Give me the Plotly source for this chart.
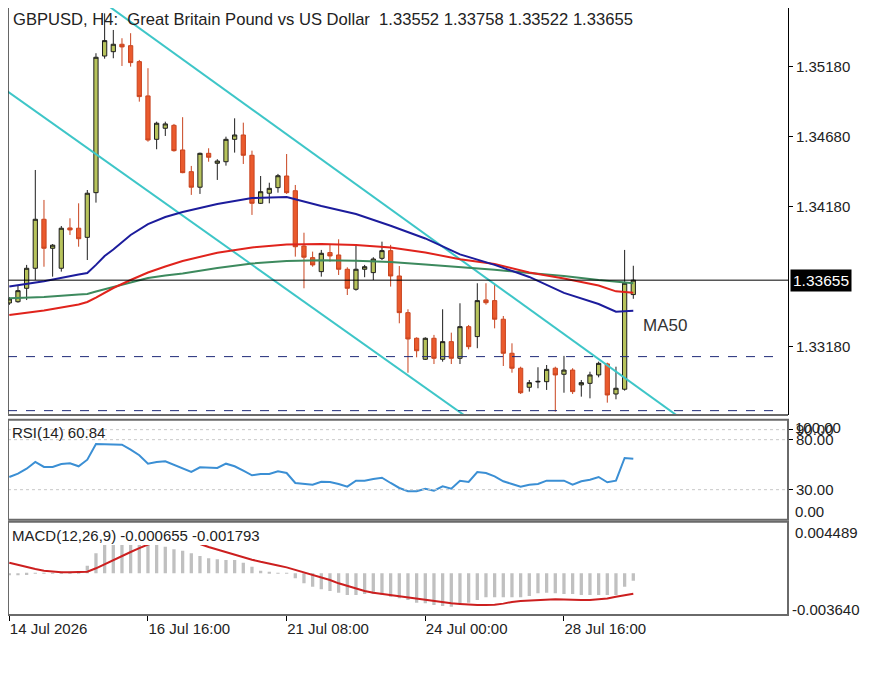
import plotly.graph_objects as go
from plotly.subplots import make_subplots

# GBPUSD H4 candles, bar 0 = 14 Jul 2026 00:00
opens = [1.33492, 1.33501, 1.33597, 1.33740, 1.34090, 1.33883, 1.33740, 1.34028, 1.34026, 1.33961,
         1.34280, 1.35256, 1.35287, 1.35340, 1.35330, 1.35216, 1.34971, 1.34661, 1.34740, 1.34761,
         1.34585, 1.34430, 1.34319, 1.34561, 1.34490, 1.34501, 1.34661, 1.34692, 1.34547, 1.34204,
         1.34276, 1.34316, 1.34399, 1.34294, 1.33899, 1.33816, 1.33716, 1.33852, 1.33835, 1.33733,
         1.33590, 1.33733, 1.33709, 1.33811, 1.33866, 1.33685, 1.33423, 1.33240, 1.33090, 1.33240,
         1.33090, 1.33216, 1.33097, 1.33323, 1.33252, 1.33514, 1.33509, 1.33376, 1.33133, 1.33026,
         1.32890, 1.32928, 1.32930, 1.33026, 1.32983, 1.33013, 1.32907, 1.32918, 1.32978, 1.33057,
         1.32842, 1.32876, 1.33552]
highs = [1.33535, 1.33621, 1.33764, 1.34442, 1.34228, 1.33913, 1.34042, 1.34097, 1.34204, 1.34299,
         1.35276, 1.35561, 1.35442, 1.35383, 1.35419, 1.35228, 1.35169, 1.34787, 1.34787, 1.34771,
         1.34819, 1.34471, 1.34566, 1.34597, 1.34519, 1.34680, 1.34811, 1.34780, 1.34580, 1.34399,
         1.34351, 1.34414, 1.34556, 1.34335, 1.33994, 1.33859, 1.33871, 1.33907, 1.33947, 1.33747,
         1.33899, 1.33764, 1.33819, 1.33930, 1.33907, 1.33756, 1.33447, 1.33247, 1.33247, 1.33264,
         1.33447, 1.33280, 1.33490, 1.33335, 1.33633, 1.33633, 1.33621, 1.33399, 1.33204, 1.33037,
         1.32942, 1.33033, 1.33049, 1.33037, 1.33114, 1.33026, 1.32942, 1.33001, 1.33073, 1.33066,
         1.33037, 1.33871, 1.33758]
lows = [1.33478, 1.33494, 1.33513, 1.33656, 1.33751, 1.33680, 1.33716, 1.33978, 1.33894, 1.33799,
        1.34209, 1.35237, 1.35240, 1.35185, 1.35180, 1.34930, 1.34644, 1.34590, 1.34685, 1.34573,
        1.34419, 1.34264, 1.34271, 1.34501, 1.34371, 1.34473, 1.34566, 1.34485, 1.34121, 1.34199,
        1.34204, 1.34280, 1.34271, 1.33823, 1.33597, 1.33751, 1.33680, 1.33787, 1.33692, 1.33549,
        1.33580, 1.33676, 1.33656, 1.33799, 1.33609, 1.33347, 1.32994, 1.33104, 1.33085, 1.33056,
        1.33073, 1.33056, 1.33056, 1.33161, 1.33169, 1.33480, 1.33311, 1.33042, 1.32994, 1.32842,
        1.32859, 1.32883, 1.32871, 1.32716, 1.32851, 1.32842, 1.32823, 1.32811, 1.32961, 1.32780,
        1.32804, 1.32866, 1.33522]
closes = [1.33521, 1.33580, 1.33740, 1.34090, 1.33883, 1.33905, 1.34026, 1.34014, 1.33951, 1.34276,
          1.35247, 1.35366, 1.35340, 1.35321, 1.35209, 1.34966, 1.34656, 1.34776, 1.34771, 1.34580,
          1.34423, 1.34319, 1.34561, 1.34533, 1.34506, 1.34661, 1.34692, 1.34547, 1.34204, 1.34287,
          1.34311, 1.34401, 1.34280, 1.33894, 1.33819, 1.33764, 1.33847, 1.33828, 1.33733, 1.33597,
          1.33733, 1.33751, 1.33806, 1.33866, 1.33685, 1.33423, 1.33235, 1.33151, 1.33240, 1.33097,
          1.33216, 1.33097, 1.33323, 1.33180, 1.33509, 1.33494, 1.33376, 1.33133, 1.33026, 1.32851,
          1.32923, 1.32932, 1.33018, 1.32978, 1.33013, 1.32859, 1.32923, 1.32978, 1.33061, 1.32835,
          1.32883, 1.33633, 1.33655]
bars = list(range(len(opens)))

# moving averages at these bars
ma_bars = [0, 4, 8, 9, 10, 11, 12, 14, 16, 18, 20, 24, 28, 32, 36, 40, 44, 48, 52, 56, 60, 64, 68, 70, 72]
ma_blue = [1.33609, 1.33647, 1.33696, 1.33706, 1.33764, 1.33828, 1.33874, 1.33978, 1.34056, 1.34106,
           1.34142, 1.34199, 1.34242, 1.34249, 1.34185, 1.34128, 1.34044, 1.33953, 1.33839, 1.33764,
           1.33678, 1.33564, 1.33485, 1.33430, 1.33437]
ma_red = [1.33406, 1.33439, 1.33481, 1.33499, 1.33531, 1.33564, 1.33599, 1.33656, 1.33710, 1.33753,
          1.33792, 1.33851, 1.33889, 1.33909, 1.33914, 1.33906, 1.33889, 1.33853, 1.33804, 1.33771,
          1.33710, 1.33667, 1.33617, 1.33575, 1.33566]
ma_green = [1.33526, 1.33535, 1.33553, 1.33556, 1.33574, 1.33592, 1.33606, 1.33639, 1.33671, 1.33689,
            1.33703, 1.33742, 1.33774, 1.33792, 1.33797, 1.33794, 1.33785, 1.33767, 1.33749, 1.33730,
            1.33706, 1.33685, 1.33656, 1.33642, 1.33633]

# channel and levels
upper_channel_bars = [10, 80]
upper_channel = [1.35678, 1.32556]
lower_channel_bars = [-1, 55]
lower_channel = [1.35038, 1.32580]
dashed_levels = [1.33109, 1.32723]
last_price = 1.33655
price_ticks = [1.33180, 1.34180, 1.34680, 1.35180]

rsi = [42.7, 46.0, 51.0, 57.7, 52.7, 52.7, 55.7, 56.4, 53.4, 60.0,
       75.7, 75.7, 75.7, 75.0, 70.0, 64.4, 56.0, 57.7, 58.4, 55.0,
       51.0, 47.7, 52.4, 52.4, 51.7, 56.0, 53.4, 49.0, 44.4, 45.7,
       45.7, 48.4, 46.7, 36.7, 35.7, 35.0, 38.0, 37.7, 35.7, 33.0,
       39.0, 39.0, 40.7, 42.0, 36.7, 31.7, 28.4, 28.4, 31.0, 29.0,
       33.4, 31.0, 39.0, 37.7, 47.7, 46.7, 43.4, 38.4, 35.7, 33.0,
       35.0, 35.7, 39.0, 39.0, 39.0, 35.0, 38.4, 40.0, 42.7, 37.4,
       39.0, 61.7, 60.84]
rsi_levels = [90, 80, 30]

macd_hist = [-0.00018, -0.00018, -0.00015, 0.00002, 0.00003, 0.00004, 0.00006, 0.00008, 0.00012, 0.00064,
             0.00173, 0.00270, 0.00320, 0.00340, 0.00335, 0.00315, 0.00290, 0.00262, 0.00231, 0.00208,
             0.00196, 0.00173, 0.00150, 0.00130, 0.00121, 0.00115, 0.00115, 0.00091, 0.00057, 0.00022,
             0.00013, 0.00004, 0.00002, -0.00044, -0.00088, -0.00117, -0.00140, -0.00155, -0.00170, -0.00190,
             -0.00190, -0.00180, -0.00180, -0.00190, -0.00205, -0.00219, -0.00233, -0.00257, -0.00262, -0.00277,
             -0.00286, -0.00292, -0.00262, -0.00257, -0.00233, -0.00210, -0.00210, -0.00210, -0.00210, -0.00210,
             -0.00199, -0.00175, -0.00170, -0.00175, -0.00180, -0.00180, -0.00190, -0.00190, -0.00190, -0.00190,
             -0.00190, -0.00117, -0.000655]
macd_signal = [0.00092, 0.00072, 0.00051, 0.00036, 0.00022, 0.00012, 0.00008, 0.00008, 0.00008, 0.00013,
               0.00043, 0.00080, 0.00115, 0.00150, 0.00185, 0.00218, 0.00250, 0.00272, 0.00285, 0.00290,
               0.00285, 0.00272, 0.00255, 0.00228, 0.00205, 0.00185, 0.00163, 0.00140, 0.00118, 0.00100,
               0.00086, 0.00068, 0.00051, 0.00030, 0.00010, -0.00015, -0.00036, -0.00059, -0.00088, -0.00112,
               -0.00135, -0.00155, -0.00170, -0.00180, -0.00195, -0.00205, -0.00215, -0.00225, -0.00235, -0.00245,
               -0.00255, -0.00262, -0.00268, -0.00275, -0.00277, -0.00277, -0.00275, -0.00265, -0.00250, -0.00242,
               -0.00237, -0.00232, -0.00228, -0.00226, -0.00228, -0.00233, -0.00233, -0.00233, -0.00228, -0.00220,
               -0.00205, -0.00192, -0.001793]
macd_top = 0.004489
macd_bottom = -0.003640
macd_visible_top = 0.00246

tick_bars = [0, 16, 32, 48, 64]
tick_labels = ["14 Jul 2026", "16 Jul 16:00", "21 Jul 08:00", "24 Jul 00:00", "28 Jul 16:00"]

FONT = "Liberation Sans, Arial, sans-serif"

fig = make_subplots(rows=3, cols=1, shared_xaxes=True)

fig.add_trace(go.Candlestick(
    x=bars, open=opens, high=highs, low=lows, close=closes,
    increasing=dict(fillcolor="#b7c35c", line=dict(color="#1e1e1e", width=1)),
    decreasing=dict(fillcolor="#ea5a2d", line=dict(color="#c9441f", width=1)),
    whiskerwidth=0, hoverinfo="skip", showlegend=False), row=1, col=1)

fig.add_trace(go.Scatter(x=upper_channel_bars, y=upper_channel, mode="lines",
                         line=dict(color="#3ec6c8", width=2), showlegend=False), row=1, col=1)
fig.add_trace(go.Scatter(x=lower_channel_bars, y=lower_channel, mode="lines",
                         line=dict(color="#3ec6c8", width=2), showlegend=False), row=1, col=1)
fig.add_trace(go.Scatter(x=ma_bars, y=ma_green, mode="lines",
                         line=dict(color="#3d8a5e", width=2), showlegend=False), row=1, col=1)
fig.add_trace(go.Scatter(x=ma_bars, y=ma_red, mode="lines",
                         line=dict(color="#e0231c", width=2), showlegend=False), row=1, col=1)
fig.add_trace(go.Scatter(x=ma_bars, y=ma_blue, mode="lines",
                         line=dict(color="#1c1c9c", width=2), showlegend=False), row=1, col=1)

fig.add_trace(go.Scatter(x=bars, y=rsi, mode="lines",
                         line=dict(color="#3b8fd4", width=2), showlegend=False), row=2, col=1)

fig.add_trace(go.Bar(x=bars, y=macd_hist, width=0.38, marker=dict(color="#c0c0c0", line_width=0),
                     showlegend=False), row=3, col=1)
fig.add_trace(go.Scatter(x=bars, y=macd_signal, mode="lines",
                         line=dict(color="#cc1f1f", width=2), showlegend=False), row=3, col=1)

# horizontal levels
for lvl in dashed_levels:
    fig.add_shape(type="line", xref="x domain", yref="y", x0=0, x1=0.99, y0=lvl, y1=lvl,
                  line=dict(color="#1f2a78", width=1, dash="dash"))
fig.add_shape(type="line", xref="x domain", yref="y", x0=0, x1=1, y0=last_price, y1=last_price,
              line=dict(color="black", width=1))
for lvl in rsi_levels:
    fig.add_shape(type="line", xref="x2 domain", yref="y2", x0=0, x1=1, y0=lvl, y1=lvl,
                  line=dict(color="#c8c8c8", width=1, dash="dot"))

# MetaTrader hides what sits under the MACD caption strip
fig.add_shape(type="rect", xref="x3 domain", yref="y3", x0=0, x1=1, y0=macd_visible_top, y1=macd_top,
              fillcolor="white", line_width=0, layer="above")

# panel frames: main window is cut at the top, so only left and bottom edges
fig.add_shape(type="line", xref="x domain", yref="y domain", x0=0, x1=0, y0=0, y1=1,
              line=dict(color="#333", width=1.5), layer="above")
fig.add_shape(type="line", xref="x domain", yref="y domain", x0=0, x1=1, y0=0, y1=0,
              line=dict(color="#6a6a6a", width=2), layer="above")
for ax in ["2", "3"]:
    fig.add_shape(type="rect", xref="x%s domain" % ax, yref="y%s domain" % ax, x0=0, x1=1, y0=0, y1=1,
                  line=dict(color="#6a6a6a", width=2), layer="above")

ann = []
ann.append(dict(xref="x domain", yref="y domain", x=0, y=1, xanchor="left", yanchor="top",
                xshift=3, showarrow=False,
                text="GBPUSD, H4:\u00a0 Great Britain Pound vs US Dollar\u00a0 1.33552 1.33758 1.33522 1.33655",
                font=dict(size=16.6, color="#222")))
ann.append(dict(xref="x domain", yref="y", x=1, y=last_price, xanchor="left", yanchor="middle",
                xshift=2, showarrow=False, text="%.5f" % last_price, bgcolor="black",
                font=dict(size=15.5, color="white"), borderpad=2))
ann.append(dict(xref="x", yref="y", x=72.9, y=1.33331, xanchor="left", yanchor="middle",
                showarrow=False, text="MA50", font=dict(size=17, color="#333")))
ann.append(dict(xref="x2 domain", yref="y2 domain", x=0, y=0.867, xanchor="left", yanchor="middle",
                xshift=2, showarrow=False, text="RSI(14) 60.84", font=dict(size=15, color="#222")))
ann.append(dict(xref="x2 domain", yref="y2", x=1, y=100, xanchor="left", yanchor="middle",
                xshift=5, yshift=-8, showarrow=False, text="100.00", font=dict(size=15, color="#222")))
ann.append(dict(xref="x2 domain", yref="y2", x=1, y=0, xanchor="left", yanchor="middle",
                xshift=5, yshift=8, showarrow=False, text="0.00", font=dict(size=15, color="#222")))
ann.append(dict(xref="x3 domain", yref="y3 domain", x=0, y=0.85, xanchor="left", yanchor="middle",
                xshift=2, showarrow=False, text="MACD(12,26,9) -0.000655 -0.001793",
                font=dict(size=15, color="#222")))
ann.append(dict(xref="x3 domain", yref="y3", x=1, y=macd_top, xanchor="left", yanchor="middle",
                xshift=5, yshift=-11, showarrow=False, text="%.6f" % macd_top, font=dict(size=15, color="#222")))
ann.append(dict(xref="x3 domain", yref="y3", x=1, y=macd_bottom, xanchor="left", yanchor="middle",
                xshift=2, yshift=6, showarrow=False, text="%.6f" % macd_bottom, font=dict(size=15, color="#222")))

yax = dict(side="right", showgrid=False, zeroline=False, showline=True, linecolor="black", linewidth=1,
           ticks="outside", ticklen=4, tickcolor="black", tickfont=dict(size=15, color="#222"), fixedrange=True)
xax = dict(showgrid=False, zeroline=False, range=[-0.15, 89.85], showticklabels=False, ticks="")

fig.update_layout(
    width=879, height=699,
    margin=dict(l=0, r=99, t=0, b=92),
    paper_bgcolor="white", plot_bgcolor="white",
    font=dict(family=FONT, size=15, color="#222"),
    showlegend=False, hovermode=False,
    annotations=ann,
    xaxis=dict(xax, rangeslider=dict(visible=False)),
    xaxis2=dict(xax),
    xaxis3=dict(xax, showticklabels=True, ticks="outside", ticklen=5, tickcolor="black",
                tickvals=tick_bars, ticktext=tick_labels, ticklabelposition="outside right",
                tickfont=dict(size=15, color="#222")),
    yaxis=dict(yax, domain=[0.3295, 1.0], range=[1.32692, 1.35599],
               tickvals=price_ticks, ticktext=["%.5f" % v for v in price_ticks]),
    yaxis2=dict(yax, domain=[0.1570, 0.3218], range=[0, 100],
                tickvals=rsi_levels, ticktext=["%.2f" % v for v in rsi_levels]),
    yaxis3=dict(yax, domain=[0.0, 0.1537], range=[macd_bottom, macd_top], showticklabels=False, ticks=""),
)

fig.write_html("out.html")
